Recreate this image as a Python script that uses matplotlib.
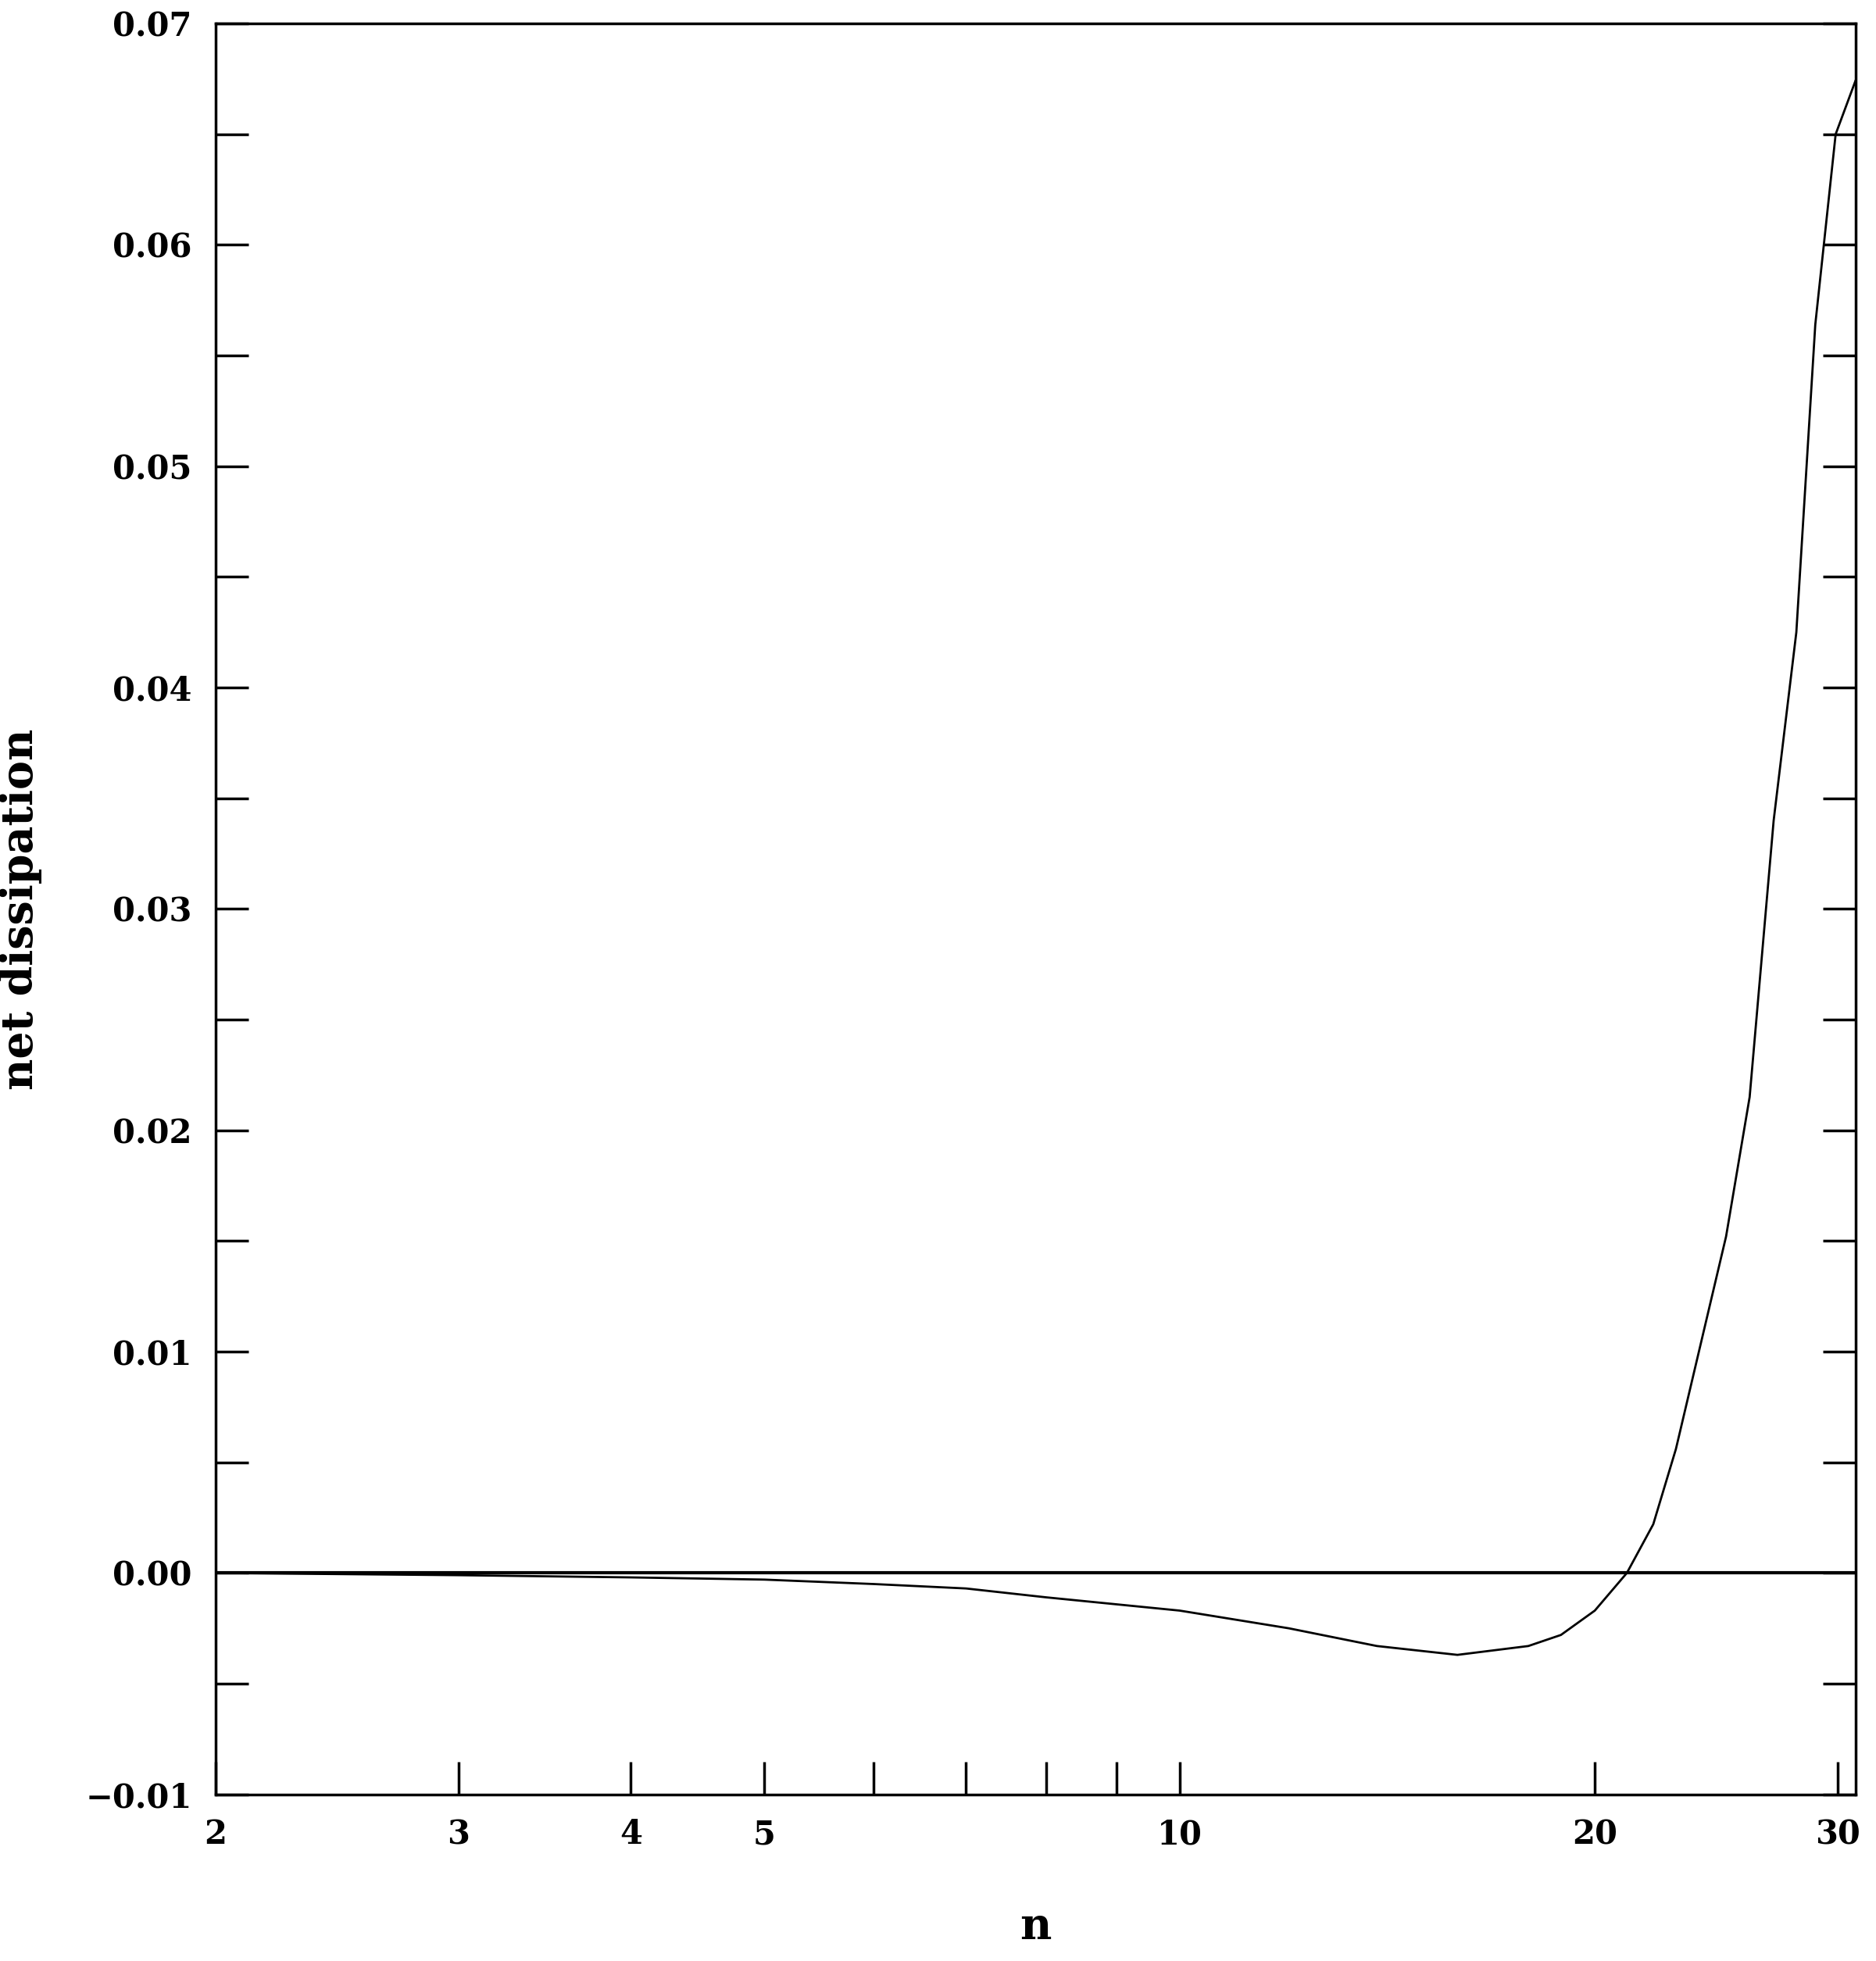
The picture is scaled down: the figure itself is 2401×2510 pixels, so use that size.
import matplotlib
matplotlib.use("Agg")
import matplotlib.pyplot as plt
from matplotlib.ticker import FixedLocator, FixedFormatter, MultipleLocator, NullFormatter

n = [2, 3, 4, 5, 6, 7, 8, 10, 12, 13.9, 15.9, 17.9, 18.9, 20, 21.1, 22.05, 22.9, 24.9, 25.9, 26.96, 28, 28.9, 29.9, 30.9]
d = [0, -0.0001, -0.0002, -0.0003, -0.0005, -0.0007, -0.0011, -0.0017, -0.0025, -0.0033, -0.0037,
     -0.0033, -0.0028, -0.0017, 0.0, 0.0022, 0.0056, 0.0152, 0.0215, 0.034, 0.0425, 0.0564, 0.065, 0.0674]
xticks = [2, 3, 4, 5, 10, 20, 30]
xminor = [6, 7, 8, 9]

fig = plt.figure(figsize=(24.01, 25.10), dpi=100)
ax = fig.add_axes([0.115, 0.085, 0.874, 0.903])
ax.plot(n, d, color='black', lw=2)
ax.axhline(0, color='black', lw=3)
ax.set_xscale('log')
ax.set_xlim(2, 30.9)
ax.set_ylim(-0.01, 0.07)
ax.xaxis.set_major_locator(FixedLocator(xticks))
ax.xaxis.set_major_formatter(FixedFormatter([str(t) for t in xticks]))
ax.xaxis.set_minor_locator(FixedLocator(xminor))
ax.xaxis.set_minor_formatter(NullFormatter())
ax.yaxis.set_major_locator(MultipleLocator(0.01))
ax.yaxis.set_minor_locator(MultipleLocator(0.005))
ax.yaxis.set_major_formatter(matplotlib.ticker.FuncFormatter(lambda v, p: f"{v:.2f}".replace('-', '\u2212')))
for s in ax.spines.values():
    s.set_linewidth(2.5)
ax.tick_params(which='both', direction='in', right=True, top=False, width=2.5, labelsize=30, pad=22)
ax.tick_params(which='major', length=30)
ax.tick_params(which='minor', length=30)
for lab in ax.get_xticklabels() + ax.get_yticklabels():
    lab.set_fontweight('bold')
    lab.set_family('DejaVu Serif')
ax.set_xlabel('n', fontsize=40, family='DejaVu Serif', fontweight='bold', labelpad=50)
ax.set_ylabel('net dissipation', fontsize=40, family='DejaVu Serif', fontweight='bold', labelpad=40)
fig.savefig('out.png', dpi=100)
